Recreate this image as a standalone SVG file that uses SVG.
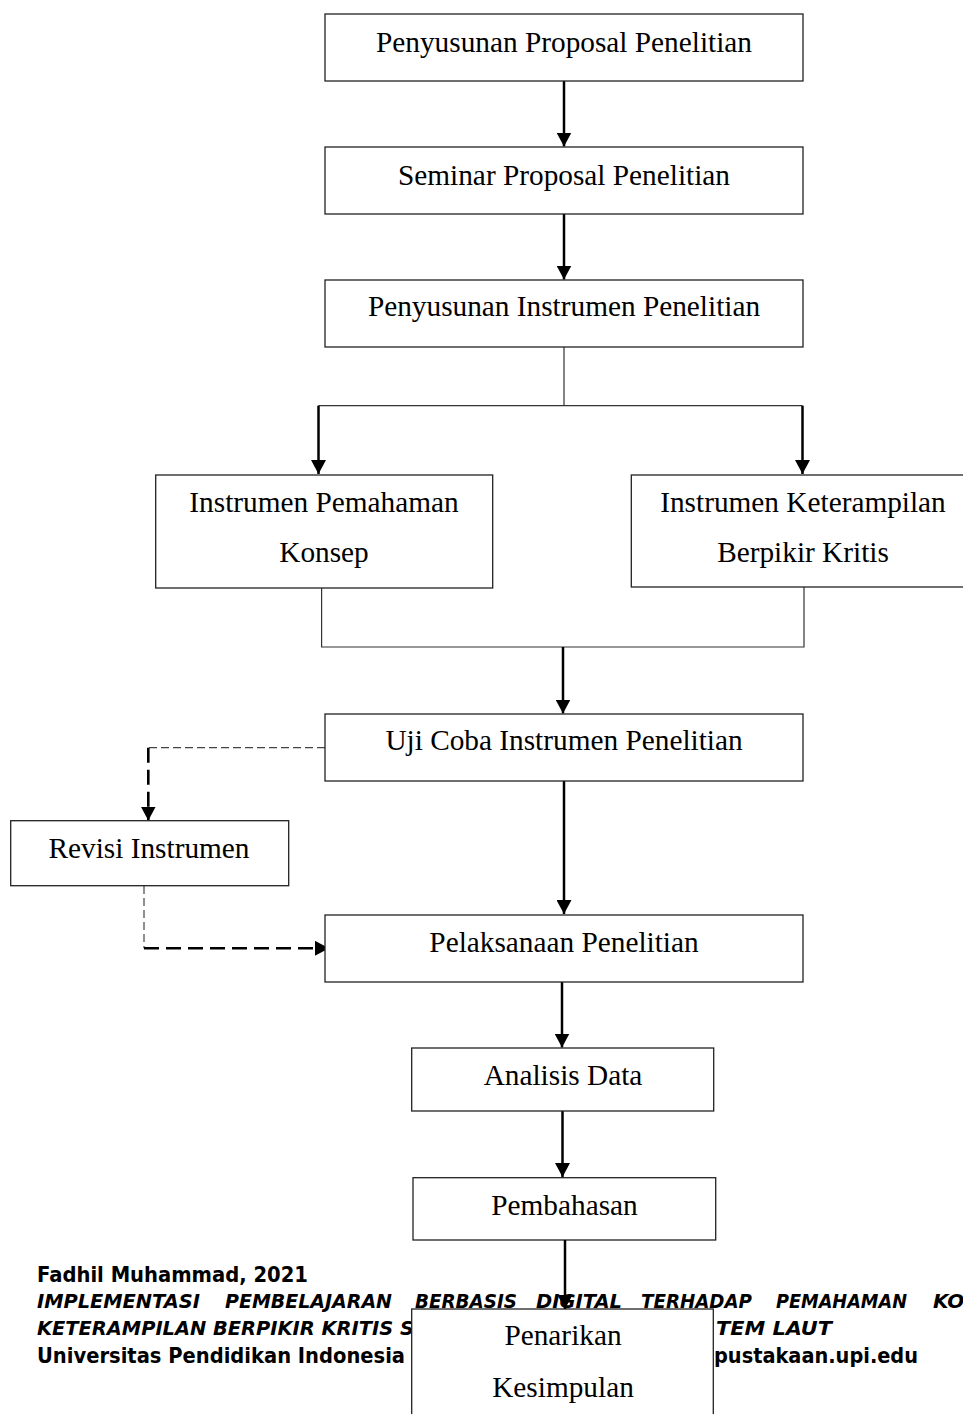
<svg xmlns="http://www.w3.org/2000/svg" width="963" height="1414" viewBox="0 0 963 1414">
<style>
.box{fill:#fff;stroke:#222;stroke-width:1.3}
.lbl{font-family:"Liberation Serif","Times New Roman",serif;font-size:29.3px;fill:#000;text-anchor:middle}
.arr{fill:none;stroke:#000;stroke-width:2.5;marker-end:url(#ah)}
.thin{fill:none;stroke:#333;stroke-width:1.2}
.dthin{fill:none;stroke:#444;stroke-width:1.2;stroke-dasharray:8 4}
.dthickA{fill:none;stroke:#000;stroke-width:2.6;stroke-dasharray:15 7;marker-end:url(#ah)}
.ft{font-family:"DejaVu Sans","Verdana",sans-serif;font-weight:bold;font-size:20.5px;fill:#000}
.fti{font-family:"DejaVu Sans","Verdana",sans-serif;font-weight:bold;font-style:italic;font-size:20px;fill:#000}
</style>
<defs>
<marker id="ah" viewBox="0 0 14 15" refX="14" refY="7.5" markerWidth="14" markerHeight="15" markerUnits="userSpaceOnUse" orient="auto">
<path d="M0,0 L14,7.5 L0,15 z" fill="#000"/>
</marker>
</defs>
<rect width="963" height="1414" fill="#fff"/>

<g id="footer">
<text class="ft" x="37" y="1282" textLength="271" lengthAdjust="spacingAndGlyphs">Fadhil Muhammad, 2021</text>
<text class="fti" x="37" y="1308" textLength="163" lengthAdjust="spacingAndGlyphs">IMPLEMENTASI</text>
<text class="fti" x="225" y="1308" textLength="167" lengthAdjust="spacingAndGlyphs">PEMBELAJARAN</text>
<text class="fti" x="415" y="1308" textLength="102" lengthAdjust="spacingAndGlyphs">BERBASIS</text>
<text class="fti" x="536" y="1308" textLength="86" lengthAdjust="spacingAndGlyphs">DIGITAL</text>
<text class="fti" x="641" y="1308" textLength="111" lengthAdjust="spacingAndGlyphs">TERHADAP</text>
<text class="fti" x="776" y="1308" textLength="131" lengthAdjust="spacingAndGlyphs">PEMAHAMAN</text>
<text class="fti" x="933" y="1308">KO</text>
<text class="fti" x="37" y="1335" textLength="377" lengthAdjust="spacingAndGlyphs">KETERAMPILAN BERPIKIR KRITIS S</text>
<text class="fti" x="716" y="1335" textLength="116" lengthAdjust="spacingAndGlyphs">TEM LAUT</text>
<text class="ft" x="37" y="1363" textLength="368" lengthAdjust="spacingAndGlyphs">Universitas Pendidikan Indonesia</text>
<text class="ft" x="714" y="1363" textLength="204" lengthAdjust="spacingAndGlyphs">pustakaan.upi.edu</text>
</g>

<g id="connectors">
<path class="arr" d="M564,81 V146.5"/>
<path class="arr" d="M564,214 V279.5"/>
<path class="thin" d="M564,347 V405.7 M318.5,405.7 H802.5"/>
<path class="arr" d="M318.5,405.7 V474"/>
<path class="arr" d="M802.5,405.7 V474"/>
<path class="thin" d="M321.6,588 V647 H804 V587"/>
<path class="arr" d="M563,647 V713.5"/>
<path class="arr" d="M564,781 V914"/>
<path class="arr" d="M562,982 V1047.5"/>
<path class="arr" d="M562.5,1111 V1177"/>
<path class="dthin" d="M325,747.7 H148.3"/>
<path class="dthickA" d="M148.3,747.7 V820.5"/>
<path class="dthin" d="M144,886 V948.3"/>
<path class="dthickA" d="M144,948.3 H329"/>
</g>

<g id="n1"><rect class="box" x="325" y="14" width="478" height="67"/><text class="lbl" x="564" y="52">Penyusunan Proposal Penelitian</text></g>
<g id="n2"><rect class="box" x="325" y="147" width="478" height="67"/><text class="lbl" x="564" y="185">Seminar Proposal Penelitian</text></g>
<g id="n3"><rect class="box" x="325" y="280" width="478" height="67"/><text class="lbl" x="564" y="316">Penyusunan Instrumen Penelitian</text></g>
<g id="n4"><rect class="box" x="155.7" y="475" width="337" height="113"/><text class="lbl" x="324" y="512">Instrumen Pemahaman</text><text class="lbl" x="324" y="562">Konsep</text></g>
<g id="n5"><rect class="box" x="631.3" y="475" width="344" height="112"/><text class="lbl" x="803" y="512">Instrumen Keterampilan</text><text class="lbl" x="803" y="562">Berpikir Kritis</text></g>
<g id="n6"><rect class="box" x="325" y="714" width="478" height="67"/><text class="lbl" x="564" y="750">Uji Coba Instrumen Penelitian</text></g>
<g id="n7"><rect class="box" x="10.7" y="820.7" width="278" height="65"/><text class="lbl" x="149" y="858">Revisi Instrumen</text></g>
<g id="n8"><rect class="box" x="325" y="915" width="478" height="67"/><text class="lbl" x="564" y="952">Pelaksanaan Penelitian</text></g>
<g id="n9"><rect class="box" x="411.7" y="1048" width="302" height="63"/><text class="lbl" x="563" y="1085">Analisis Data</text></g>
<g id="n10"><rect class="box" x="413" y="1177.7" width="302.7" height="62.3"/><text class="lbl" x="564.5" y="1215">Pembahasan</text></g>
<g id="n11"><rect class="box" x="411.7" y="1309" width="301.6" height="120"/><text class="lbl" x="563" y="1345">Penarikan</text><text class="lbl" x="563" y="1397">Kesimpulan</text></g>

<g id="connectors-top">
<path class="arr" d="M565,1240 V1309"/>
</g>
</svg>
